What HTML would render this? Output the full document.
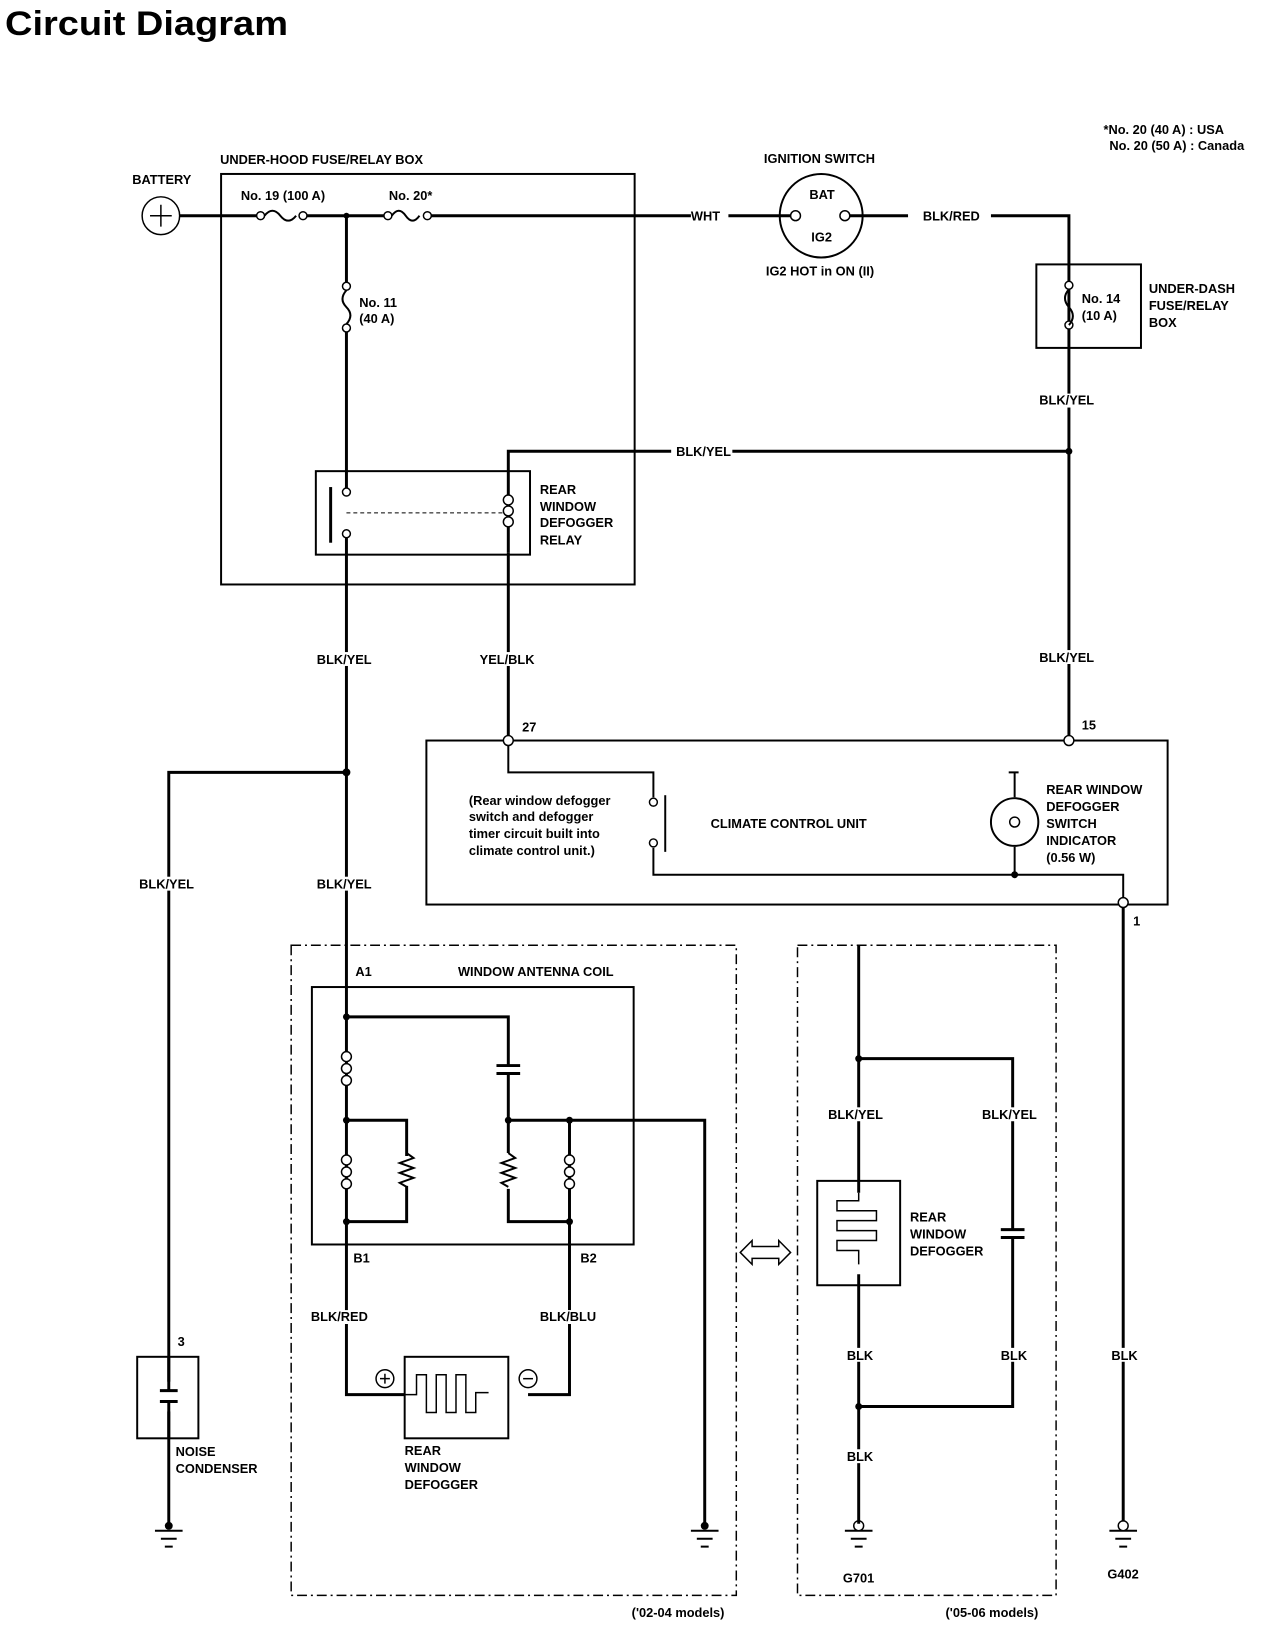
<!DOCTYPE html>
<html><head><meta charset="utf-8"><style>
html,body{margin:0;padding:0;background:#fff}
svg{display:block}
text{font-family:"Liberation Sans Narrow","Liberation Sans",sans-serif;font-weight:bold;font-size:13px;fill:#000}
.w{stroke:#000;stroke-width:3;fill:none}
.t{stroke:#000;stroke-width:2;fill:none}
.n{stroke:#000;stroke-width:1.5;fill:none}
.c{stroke:#000;stroke-width:1.5;fill:#fff}
.d{stroke:#000;stroke-width:1.5;fill:none;stroke-dasharray:10,4,2,4}
</style></head><body>
<svg width="1264" height="1634" viewBox="0 0 1264 1634" xmlns="http://www.w3.org/2000/svg">
<text x="5" y="35" textLength="283" lengthAdjust="spacingAndGlyphs" style="font-family:'Liberation Sans',sans-serif;font-size:34px;font-weight:bold">Circuit Diagram</text>
<g transform="scale(0.987,0.994)">
<text x="1118" y="135" font-size="12">*No. 20 (40 A) : USA</text>
<text x="1124" y="151" font-size="12">No. 20 (50 A) : Canada</text>

<!-- under-hood box -->
<text x="223" y="165">UNDER-HOOD FUSE/RELAY BOX</text>
<rect x="224" y="175" width="419" height="413" class="t"/>
<text x="134" y="185">BATTERY</text>
<circle cx="163" cy="217" r="19" class="c"/>
<path d="M152 217h22M163 206v22" class="n"/>
<path d="M182 217H261M310 217H390M436 217H700M738 217H806" class="w"/>
<circle cx="264" cy="217" r="4" class="c"/><circle cx="307" cy="217" r="4" class="c"/>
<path d="M268 217q8 -10 16 0t16 0" class="t"/>
<text x="244" y="201">No. 19 (100 A)</text>
<circle cx="351" cy="217" r="3"/>
<circle cx="393" cy="217" r="4" class="c"/><circle cx="433" cy="217" r="4" class="c"/>
<path d="M397 217q7 -10 14 0t14 0" class="t"/>
<text x="394" y="201">No. 20*</text>
<text x="700" y="222">WHT</text>
<!-- ignition -->
<text x="774" y="164">IGNITION SWITCH</text>
<circle cx="832" cy="217" r="42" class="t"/>
<circle cx="806" cy="217" r="5" class="c"/><circle cx="856" cy="217" r="5" class="c"/>
<text x="820" y="200">BAT</text><text x="822" y="243">IG2</text>
<text x="776" y="277">IG2 HOT in ON (II)</text>
<path d="M861 217H920M1004 217H1083V740" class="w"/>
<text x="935" y="222">BLK/RED</text>
<!-- under dash -->
<rect x="1050" y="266" width="106" height="84" class="t"/>
<circle cx="1083" cy="287" r="4" class="c"/><circle cx="1083" cy="327" r="4" class="c"/>
<path d="M1083 291q-8 9 0 18t0 18" class="t"/>
<text x="1096" y="305">No. 14</text><text x="1096" y="322">(10 A)</text>
<text x="1164" y="295">UNDER-DASH</text><text x="1164" y="312">FUSE/RELAY</text><text x="1164" y="329">BOX</text>
<rect x="1052" y="396" width="62" height="14" fill="#fff"/><text x="1053" y="407">BLK/YEL</text>
<path d="M515 556V454H680M742 454H1083" class="w"/>
<text x="685" y="459">BLK/YEL</text>
<circle cx="1083" cy="454" r="3.5"/>
<!-- No 11 -->
<path d="M351 217V284M351 334V491" class="w"/>
<circle cx="351" cy="288" r="4" class="c"/><circle cx="351" cy="330" r="4" class="c"/>
<path d="M351 292q-8 9 0 17t0 17" class="t"/>
<text x="364" y="309">No. 11</text><text x="364" y="325">(40 A)</text>
<!-- relay -->
<rect x="320" y="474" width="217" height="84" class="t"/>
<circle cx="351" cy="495" r="4" class="c"/><circle cx="351" cy="537" r="4" class="c"/>
<path d="M335 490v56" class="w"/>
<path d="M351 516H512" stroke="#000" stroke-width="1" stroke-dasharray="4,3"/>
<circle cx="515" cy="503" r="5" class="c"/><circle cx="515" cy="514" r="5" class="c"/><circle cx="515" cy="525" r="5" class="c"/>
<text x="547" y="497">REAR</text><text x="547" y="514">WINDOW</text><text x="547" y="530">DEFOGGER</text><text x="547" y="548">RELAY</text>
<path d="M351 541V1403H410M515 556V741" class="w"/>
<rect x="320" y="656" width="62" height="14" fill="#fff"/><text x="321" y="668">BLK/YEL</text>
<rect x="485" y="656" width="62" height="14" fill="#fff"/><text x="486" y="668">YEL/BLK</text>
<rect x="1052" y="654" width="62" height="14" fill="#fff"/><text x="1053" y="666">BLK/YEL</text>
<!-- climate -->
<rect x="432" y="745" width="751" height="165" class="t"/>
<circle cx="515" cy="745" r="5" class="c"/><text x="529" y="736">27</text>
<circle cx="1083" cy="745" r="5" class="c"/><text x="1096" y="734">15</text>
<path d="M515 750V777H662V802M662 853V880H1138V903" class="t"/>
<circle cx="662" cy="807" r="4" class="c"/><circle cx="662" cy="848" r="4" class="c"/>
<path d="M674 800v57" class="t"/>
<text x="475" y="810" font-size="12">(Rear window defogger</text>
<text x="475" y="826" font-size="12">switch and defogger</text>
<text x="475" y="843" font-size="12">timer circuit built into</text>
<text x="475" y="860" font-size="12">climate control unit.)</text>
<text x="720" y="833">CLIMATE CONTROL UNIT</text>
<path d="M1028 777V802M1028 852V880M1022 777h10" class="t"/>
<circle cx="1028" cy="827" r="24" class="t"/>
<circle cx="1028" cy="827" r="5" class="n"/>
<circle cx="1028" cy="880" r="3.5"/>
<text x="1060" y="799">REAR WINDOW</text><text x="1060" y="816">DEFOGGER</text><text x="1060" y="833">SWITCH</text><text x="1060" y="850">INDICATOR</text><text x="1060" y="867" font-size="12">(0.56 W)</text>
<circle cx="1138" cy="908" r="5" class="c"/><text x="1148" y="931">1</text>
<path d="M1138 913V1533" class="w"/>
<rect x="1120" y="1356" width="30" height="14" fill="#fff"/><text x="1126" y="1368">BLK</text>
<!-- left branch -->
<circle cx="351" cy="777" r="4"/>
<path d="M351 777H171V1533" class="w"/>
<rect x="140" y="882" width="62" height="14" fill="#fff"/><text x="141" y="894">BLK/YEL</text>
<rect x="320" y="882" width="62" height="14" fill="#fff"/><text x="321" y="894">BLK/YEL</text>
<!-- noise condenser -->
<rect x="139" y="1365" width="62" height="82" class="t"/>
<rect x="163" y="1390" width="16" height="30" fill="#fff"/>
<path d="M171 1365V1399M171 1410V1447M162 1399h18M162 1410h18" class="w"/>
<text x="180" y="1354">3</text>
<text x="178" y="1465">NOISE</text><text x="178" y="1482">CONDENSER</text>
<!-- grounds -->
<g class="t">
<path d="M157 1540h28M163 1548h16M167 1556h8"/>
<path d="M700 1540h28M706 1548h16M710 1556h8"/>
<path d="M856 1540h28M862 1548h16M866 1556h8"/>
<path d="M1124 1540h28M1130 1548h16M1134 1556h8"/>
</g>
<circle cx="171" cy="1535" r="4"/>
<circle cx="714" cy="1535" r="4"/>
<circle cx="870" cy="1535" r="5" class="c"/>
<circle cx="1138" cy="1535" r="5" class="c"/>
<text x="854" y="1592">G701</text><text x="1122" y="1588">G402</text>
<!-- dashed box 1 -->
<rect x="295" y="951" width="451" height="654" class="d"/>
<text x="640" y="1627" font-size="12">('02-04 models)</text>
<text x="360" y="982">A1</text><text x="464" y="982">WINDOW ANTENNA COIL</text>
<rect x="316" y="993" width="326" height="259" class="t"/>
<circle cx="351" cy="1023" r="3.5"/>
<path d="M351 1023H515V1072M515 1080V1127M351 1127H412V1163M412 1193V1229H351M515 1127V1160M515 1196V1229H577M577 1127V1403H535M515 1127H714V1533" class="w"/>
<path d="M503 1072h24M503 1080h24" class="w"/>
<g>
<circle cx="351" cy="1063" r="5" class="c"/><circle cx="351" cy="1075" r="5" class="c"/><circle cx="351" cy="1087" r="5" class="c"/>
<circle cx="351" cy="1167" r="5" class="c"/><circle cx="351" cy="1179" r="5" class="c"/><circle cx="351" cy="1191" r="5" class="c"/>
<circle cx="577" cy="1167" r="5" class="c"/><circle cx="577" cy="1179" r="5" class="c"/><circle cx="577" cy="1191" r="5" class="c"/>
</g>
<path d="M412 1160l7 5-14 5 14 5-14 5 14 5-14 5 7 4" class="t"/>
<path d="M515 1160l7 5-14 5 14 5-14 5 14 5-14 5 7 4" class="t"/>
<circle cx="351" cy="1127" r="3.5"/><circle cx="351" cy="1229" r="3.5"/>
<circle cx="515" cy="1127" r="3.5"/><circle cx="577" cy="1127" r="3.5"/><circle cx="577" cy="1229" r="3.5"/>
<text x="358" y="1270">B1</text><text x="588" y="1270">B2</text>
<rect x="314" y="1318" width="60" height="14" fill="#fff"/><text x="315" y="1329">BLK/RED</text>
<rect x="546" y="1318" width="60" height="14" fill="#fff"/><text x="547" y="1329">BLK/BLU</text>
<rect x="410" y="1365" width="105" height="82" class="t"/>
<path d="M410 1403h12v-20h10v38h10v-38h10v38h10v-38h10v38h10v-20h13" class="n"/>
<circle cx="390" cy="1387" r="9" class="n"/><path d="M385 1387h10M390 1382v10" class="n"/>
<circle cx="535" cy="1387" r="9" class="n"/><path d="M530 1387h10" class="n"/>
<text x="410" y="1464">REAR</text><text x="410" y="1481">WINDOW</text><text x="410" y="1498">DEFOGGER</text>
<!-- arrow -->
<path d="M750 1260l12-12v6h27v-6l12 12-12 12v-6h-27v6z" class="n"/>
<!-- dashed box 2 -->
<rect x="808" y="951" width="262" height="654" class="d"/>
<text x="958" y="1627" font-size="12">('05-06 models)</text>
<path d="M870 951V1200M870 1282V1533M870 1065H1026V1237M1026 1245V1415H870" class="w"/>
<path d="M1014 1237h24M1014 1245h24" class="w"/>
<circle cx="870" cy="1065" r="3.5"/><circle cx="870" cy="1415" r="3.5"/>
<rect x="838" y="1114" width="62" height="14" fill="#fff"/><text x="839" y="1126">BLK/YEL</text>
<rect x="994" y="1114" width="62" height="14" fill="#fff"/><text x="995" y="1126">BLK/YEL</text>
<rect x="828" y="1188" width="84" height="105" class="t"/>
<path d="M870 1200v8h-22v10h40v10h-40v10h40v10h-40v10h22v14" class="n"/>
<text x="922" y="1229">REAR</text><text x="922" y="1246">WINDOW</text><text x="922" y="1263">DEFOGGER</text>
<rect x="855" y="1356" width="30" height="14" fill="#fff"/><text x="858" y="1368">BLK</text>
<rect x="1011" y="1356" width="30" height="14" fill="#fff"/><text x="1014" y="1368">BLK</text>
<rect x="855" y="1458" width="30" height="14" fill="#fff"/><text x="858" y="1470">BLK</text>
</g>
</svg>
</body></html>
